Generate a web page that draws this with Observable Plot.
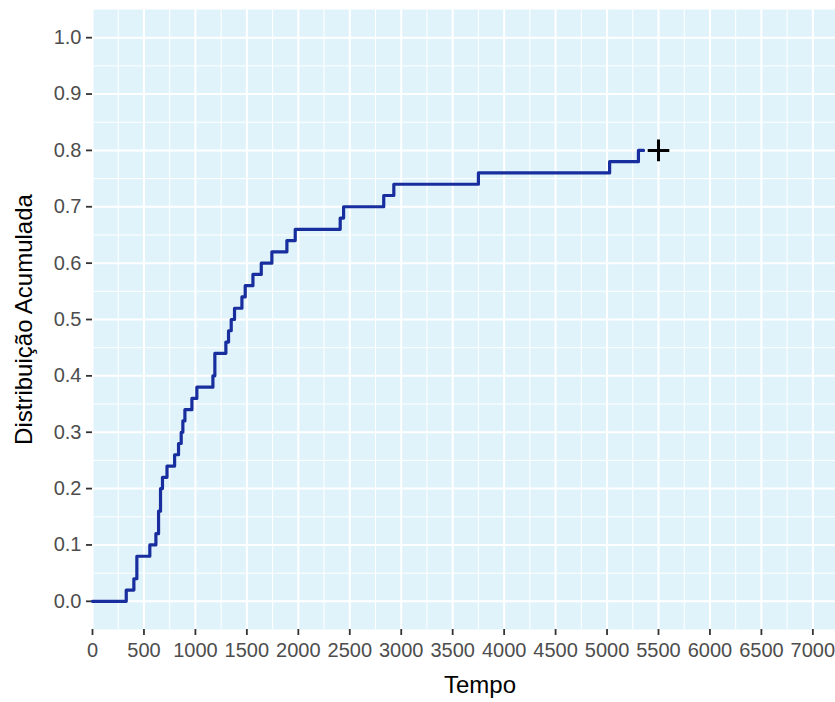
<!DOCTYPE html>
<html>
<head>
<meta charset="utf-8">
<script src="https://cdn.jsdelivr.net/npm/d3@7"></script>
<script src="https://cdn.jsdelivr.net/npm/@observablehq/plot@0.6"></script>
<style>
  html, body { margin: 0; padding: 0; background: #ffffff; }
  #chart svg { display: block; font-family: "Liberation Sans", Arial, sans-serif; }
</style>
</head>
<body>
<div id="chart"></div>
<script>
// Cumulative distribution (1 - Kaplan–Meier) step curve
const eventTimes = [0, 328, 402, 431, 557, 616, 642, 661, 680, 724, 798, 836, 862, 878, 898, 966, 1014,
  1170, 1189, 1296, 1322, 1348, 1380, 1452, 1484, 1559, 1640, 1743, 1889, 1970, 2407, 2440, 2830,
  2928, 3750, 5025, 5305, 5355];
const cumProb = [0.00, 0.02, 0.04, 0.08, 0.10, 0.12, 0.16, 0.20, 0.22, 0.24, 0.26, 0.28, 0.30, 0.32, 0.34, 0.36, 0.38,
  0.40, 0.44, 0.46, 0.48, 0.50, 0.52, 0.54, 0.56, 0.58, 0.60, 0.62, 0.64, 0.66, 0.68, 0.70, 0.72,
  0.74, 0.76, 0.78, 0.80, 0.80];

// Censored observation
const censorTimes = [5500];
const censorProb = [0.80];

// Axis ticks
const xTicks = [0, 500, 1000, 1500, 2000, 2500, 3000, 3500, 4000, 4500, 5000, 5500, 6000, 6500, 7000];
const yTicks = [0.0, 0.1, 0.2, 0.3, 0.4, 0.5, 0.6, 0.7, 0.8, 0.9, 1.0];

const curve = eventTimes.map((t, i) => ({t, p: cumProb[i]}));
const censored = censorTimes.map((t, i) => ({t, p: censorProb[i]}));

const xMinor = xTicks.map(v => v + 250);
const yMinor = yTicks.slice(0, -1).map(v => v + 0.05);

const chart = Plot.plot({
  width: 835,
  height: 702,
  marginLeft: 92,
  marginRight: 0,
  marginTop: 9,
  marginBottom: 73,
  style: {fontFamily: "'Liberation Sans', Arial, sans-serif", background: "#ffffff"},
  x: {domain: [0, 7220]},
  y: {domain: [-0.05, 1.05]},
  marks: [
    Plot.frame({fill: "#e1f3fa", stroke: null}),
    Plot.ruleX(xMinor, {stroke: "#ffffff", strokeWidth: 1}),
    Plot.ruleY(yMinor, {stroke: "#ffffff", strokeWidth: 1}),
    Plot.ruleX(xTicks, {stroke: "#ffffff", strokeWidth: 2}),
    Plot.ruleY(yTicks, {stroke: "#ffffff", strokeWidth: 2}),
    Plot.axisX({ticks: xTicks, tickFormat: d3.format("d"), tickSize: 6, tickPadding: 7,
      stroke: "#333333", strokeWidth: 1.8, fill: "#4d4d4d", fontSize: 20, label: null}),
    Plot.axisY({ticks: yTicks, tickFormat: d3.format(".1f"), tickSize: 6, tickPadding: 5,
      stroke: "#333333", strokeWidth: 1.8, fill: "#4d4d4d", fontSize: 20, label: null}),
    Plot.line(curve, {x: "t", y: "p", curve: "step-after", stroke: "#182e9e", strokeWidth: 3.2}),
    Plot.dot(censored, {x: "t", y: "p", symbol: "plus", r: 7, stroke: "#000000", strokeWidth: 3}),
    Plot.text(["Tempo"], {frameAnchor: "bottom", dy: 56, dx: 16, fontSize: 24, fill: "#000000",
      textAnchor: "middle", lineAnchor: "middle"}),
    Plot.text(["Distribuição Acumulada"], {frameAnchor: "left", dx: -68, rotate: -90, fontSize: 24, fill: "#000000",
      textAnchor: "middle", lineAnchor: "middle"})
  ]
});

document.getElementById("chart").appendChild(chart);
</script>
</body>
</html>
